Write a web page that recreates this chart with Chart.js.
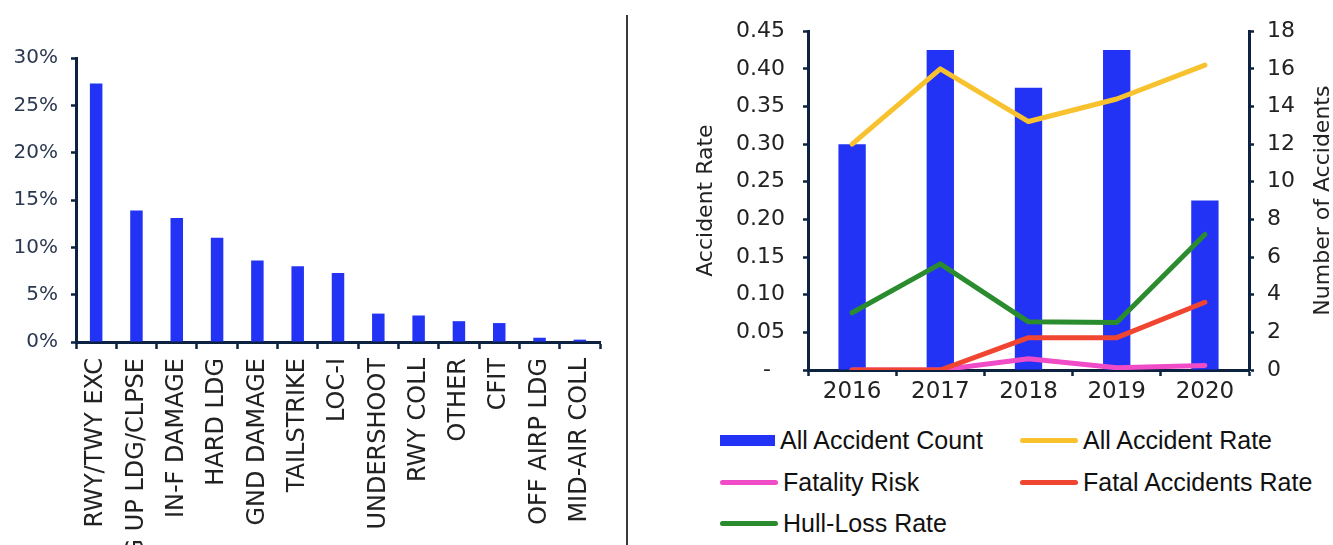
<!DOCTYPE html>
<html>
<head>
<meta charset="utf-8">
<script src="https://cdn.jsdelivr.net/npm/chart.js@4"></script>
<style>
  html, body { margin: 0; padding: 0; background: #fff; width: 1333px; height: 545px; overflow: hidden; position: relative; }
  #causes { position: absolute; left: 0; top: 0; width: 625px; height: 545px; }
  #trend { position: absolute; left: 680px; top: 0; width: 653px; height: 420px; }
  #divider { position: absolute; left: 626px; top: 15px; width: 2px; height: 530px; background: #3a3a3a; }
  #legend { position: absolute; left: 0; top: 0; font-family: 'Liberation Sans', Arial, sans-serif; font-size: 25px; color: #111; }
  .item { position: absolute; display: flex; align-items: center; white-space: nowrap; height: 30px; }
  .sw { display: inline-block; margin-right: 5px; }
</style>
</head>
<body>
<canvas id="causes" width="625" height="545"></canvas>
<div id="divider"></div>
<canvas id="trend" width="653" height="420"></canvas>
<div id="legend"></div>
<script>
// Accident categories, share of all accidents (%)
const causeLabels = ['RWY/TWY EXC', 'G UP LDG/CLPSE', 'IN-F DAMAGE', 'HARD LDG', 'GND DAMAGE', 'TAILSTRIKE',
  'LOC-I', 'UNDERSHOOT', 'RWY COLL', 'OTHER', 'CFIT', 'OFF AIRP LDG', 'MID-AIR COLL'];
const causeShare = [27.3, 13.9, 13.1, 11.0, 8.6, 8.0, 7.3, 3.0, 2.8, 2.2, 2.0, 0.45, 0.25];

// Yearly accident counts and rates
const years = ['2016', '2017', '2018', '2019', '2020'];
const accidentCount = [12, 17, 15, 17, 9];
const allAccidentRate = [0.30, 0.40, 0.33, 0.36, 0.405];
const fatalityRisk = [0, 0, 0.015, 0.003, 0.006];
const fatalAccidentsRate = [0, 0, 0.043, 0.043, 0.09];
const hullLossRate = [0.076, 0.141, 0.064, 0.063, 0.18];

// Axis tick values
const shareTicks = [0, 5, 10, 15, 20, 25, 30];
const rateTicks = [0, 0.05, 0.10, 0.15, 0.20, 0.25, 0.30, 0.35, 0.40, 0.45];
const countTicks = [0, 2, 4, 6, 8, 10, 12, 14, 16, 18];

const BLUE = '#2233f5';
const YELLOW = '#f8c22e';
const PINK = '#f04cc8';
const RED = '#f04530';
const GREEN = '#2a8c2e';
const NAVY = '#0d2240';
const DV = "'DejaVu Sans', sans-serif";

const fixedTicks = (values) => (scale) => { scale.ticks = values.map(v => ({ value: v })); };

new Chart(document.getElementById('causes'), {
  type: 'bar',
  data: {
    labels: causeLabels,
    datasets: [{ data: causeShare, backgroundColor: BLUE, categoryPercentage: 1, barPercentage: 0.31 }]
  },
  options: {
    responsive: false,
    animation: false,
    layout: { padding: { top: 58, right: 25, left: 0, bottom: 0 } },
    plugins: { legend: { display: false }, tooltip: { enabled: false } },
    scales: {
      x: {
        grid: { drawOnChartArea: false, drawTicks: true, tickLength: 7, tickWidth: 2.5, tickColor: NAVY, offset: true },
        border: { display: true, color: NAVY, width: 3 },
        ticks: { autoSkip: false, minRotation: 90, maxRotation: 90, padding: 9, color: '#222',
                 font: { family: DV, size: 24 } },
        afterFit(s) { s.height = 203; }
      },
      y: {
        min: 0, max: 30,
        afterBuildTicks: fixedTicks(shareTicks),
        ticks: { callback: v => v + '%', padding: 13, color: '#2a3950', font: { family: DV, size: 20 } },
        grid: { drawOnChartArea: false, tickLength: 5, tickWidth: 2.5, tickColor: NAVY },
        border: { color: NAVY, width: 3 },
        afterFit(s) { s.width = 76; }
      }
    }
  }
});

// Right-hand axis title, reading bottom to top like the left one
const countAxisTitle = {
  id: 'countAxisTitle',
  afterDraw(chart) {
    const { ctx, chartArea } = chart;
    const x = chart.scales.y1.right - 10;
    const y = (chartArea.top + chartArea.bottom) / 2;
    ctx.save();
    ctx.translate(x, y);
    ctx.rotate(-Math.PI / 2);
    ctx.font = '22px ' + DV;
    ctx.fillStyle = '#222';
    ctx.textAlign = 'center';
    ctx.textBaseline = 'middle';
    ctx.fillText('Number of Accidents', 0, 0);
    ctx.restore();
  }
};

const lineStyle = { type: 'line', yAxisID: 'y', borderWidth: 5, pointRadius: 0, tension: 0,
                    borderCapStyle: 'round', borderJoinStyle: 'round', fill: false };

const series = [
  { type: 'bar', label: 'All Accident Count', data: accidentCount, backgroundColor: BLUE, yAxisID: 'y1',
    categoryPercentage: 1, barPercentage: 0.31, order: 10 },
  { ...lineStyle, label: 'All Accident Rate', data: allAccidentRate, borderColor: YELLOW, backgroundColor: YELLOW, order: 3 },
  { ...lineStyle, label: 'Fatality Risk', data: fatalityRisk, borderColor: PINK, backgroundColor: PINK, order: 2 },
  { ...lineStyle, label: 'Fatal Accidents Rate', data: fatalAccidentsRate, borderColor: RED, backgroundColor: RED, order: 1 },
  { ...lineStyle, label: 'Hull-Loss Rate', data: hullLossRate, borderColor: GREEN, backgroundColor: GREEN, order: 4 }
];

new Chart(document.getElementById('trend'), {
  data: { labels: years, datasets: series },
  options: {
    responsive: false,
    animation: false,
    layout: { padding: { top: 30, right: 0, left: 0, bottom: 0 } },
    plugins: { legend: { display: false }, tooltip: { enabled: false } },
    scales: {
      x: {
        grid: { drawOnChartArea: false, tickLength: 6, tickWidth: 2.5, tickColor: NAVY, offset: true },
        border: { color: NAVY, width: 3 },
        ticks: { padding: 2, color: '#222', font: { family: DV, size: 23 } },
        afterFit(s) { s.height = 50; }
      },
      y: {
        position: 'left', min: 0, max: 0.45,
        afterBuildTicks: fixedTicks(rateTicks),
        ticks: { callback: v => (v === 0 ? '-  ' : v.toFixed(2)), padding: 18, color: '#222',
                 font: { family: DV, size: 22 } },
        grid: { drawOnChartArea: false, tickLength: 5, tickWidth: 2.5, tickColor: NAVY },
        border: { color: NAVY, width: 3 },
        title: { display: true, text: 'Accident Rate', color: '#222', padding: { top: 13, bottom: 0 },
                 font: { family: DV, size: 22 } },
        afterFit(s) { s.width = 128; }
      },
      y1: {
        position: 'right', min: 0, max: 18,
        afterBuildTicks: fixedTicks(countTicks),
        ticks: { padding: 13, color: '#222', font: { family: DV, size: 22 } },
        grid: { drawOnChartArea: false, tickLength: 5, tickWidth: 2.5, tickColor: NAVY },
        border: { color: NAVY, width: 3 },
        afterFit(s) { s.width = 84; }
      }
    }
  },
  plugins: [countAxisTitle]
});

// Legend in two columns below the yearly chart
const legendSlots = [
  { left: 720, top: 440 }, { left: 1020, top: 440 },
  { left: 720, top: 482 }, { left: 1020, top: 482 },
  { left: 720, top: 523 }
];
const legend = document.getElementById('legend');
series.forEach((ds, i) => {
  const item = document.createElement('div');
  item.className = 'item';
  item.style.left = legendSlots[i].left + 'px';
  item.style.top = (legendSlots[i].top - 15) + 'px';
  const sw = document.createElement('span');
  sw.className = 'sw';
  if (ds.type === 'bar') {
    sw.style.width = '55px'; sw.style.height = '11px'; sw.style.background = ds.backgroundColor;
  } else {
    sw.style.width = '58px'; sw.style.height = '5px'; sw.style.borderRadius = '3px'; sw.style.background = ds.borderColor;
  }
  item.appendChild(sw);
  item.appendChild(document.createTextNode(ds.label));
  legend.appendChild(item);
});
</script>
</body>
</html>
